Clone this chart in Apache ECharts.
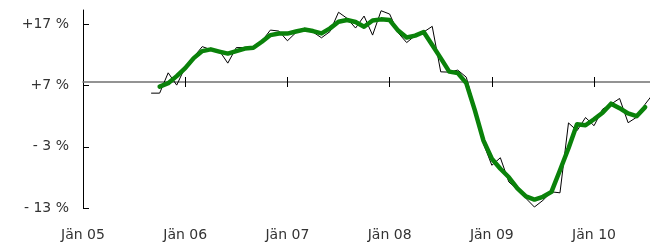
<!DOCTYPE html>
<html>
<head>
<meta charset="utf-8">
<script src="https://cdn.jsdelivr.net/npm/echarts@6/dist/echarts.min.js"></script>
<style>
  html, body { margin: 0; padding: 0; background: #fff; }
  #chart { width: 650px; height: 243px; }
</style>
</head>
<body>
<div id="chart"></div>
<script>
// x = months since Jan 05
const yearTicks = [0, 12, 24, 36, 48, 60];
const yearLabels = ['Jän 05', 'Jän 06', 'Jän 07', 'Jän 08', 'Jän 09', 'Jän 10'];
const yTicks = [-13, -3, 7, 17];
const yTickLabels = ['- 13 %', '- 3 %', '+7 %', '+17 %'];

// monthly change, Sep 05 .. Aug 10
const monthlyStart = 8;
const monthly = [
  5.76, 5.76, 9.08, 7.07,
  10.01, 11.65, 13.36, 12.87, 12.71, 10.66, 13.20, 13.20, 13.33, 14.26, 16.06, 15.90,
  14.31, 15.65, 16.34, 15.74, 14.80, 15.82, 18.97, 17.98, 16.39, 18.35, 15.24, 19.22,
  18.68, 15.62, 14.02, 15.16, 15.74, 16.67, 9.24, 9.19, 9.52, 8.37, 3.30, -2.42,
  -6.02, -4.79, -8.75, -9.95, -11.42, -12.84, -11.75, -10.36, -10.52, 0.90, -0.38, 1.78,
  0.44, 3.14, 3.96, 4.89, 0.93, 1.83, 3.96, 5.76
];

// smoothed trend, Oct 05 .. Jul 10
const smoothStart = 9;
const smoothed = [
  6.82, 7.39, 8.54,
  9.85, 11.48, 12.63, 12.91, 12.55, 12.22, 12.63, 13.04, 13.17, 14.15, 15.24, 15.49,
  15.49, 15.82, 16.14, 15.90, 15.52, 16.34, 17.42, 17.70, 17.37, 16.60, 17.62, 17.81,
  17.70, 15.98, 14.84, 15.16, 15.74, 13.61, 11.48, 9.27, 9.03, 7.39, 2.98, -1.93,
  -4.96, -6.59, -7.98, -9.78, -11.09, -11.63, -11.17, -10.36, -6.84, -3.24, 0.69, 0.52,
  1.50, 2.57, 4.04, 3.30, 2.44, 1.99, 3.47
];

const xMax = 66.57;
const font = 'DejaVu Sans';

const chart = echarts.init(document.getElementById('chart'));

const baseAxis = {
  type: 'value',
  position: 'bottom',
  min: 0,
  max: xMax,
  splitLine: { show: false },
  axisLabel: { show: false },
};

chart.setOption({
  animation: false,
  grid: { left: 83, right: 0, top: 10, bottom: 35, containLabel: false },
  xAxis: [
    {
      ...baseAxis,
      axisLine: { show: false, onZero: false },
      axisTick: { show: false },
      axisLabel: {
        show: true,
        customValues: yearTicks,
        formatter: (v) => yearLabels[yearTicks.indexOf(v)],
        margin: 20,
        fontSize: 14,
        fontFamily: font,
        color: '#333',
      },
    },
    {
      ...baseAxis,
      offset: -126,
      axisLine: { show: true, onZero: false, lineStyle: { color: '#707070', width: 1.5 } },
      axisTick: { show: true, inside: true, length: 5, customValues: yearTicks.slice(1), lineStyle: { color: '#000', width: 1 } },
    },
    {
      ...baseAxis,
      offset: -126,
      axisLine: { show: false, onZero: false },
      axisTick: { show: true, inside: false, length: 5, customValues: yearTicks.slice(1), lineStyle: { color: '#000', width: 1 } },
    },
  ],
  yAxis: {
    type: 'value',
    min: -13,
    max: 19.34,
    splitLine: { show: false },
    axisLine: { show: true, onZero: false, lineStyle: { color: '#000', width: 1 } },
    axisTick: { show: true, inside: true, length: 6, customValues: yTicks, lineStyle: { color: '#000' } },
    axisLabel: {
      customValues: yTicks,
      formatter: (v) => yTickLabels[yTicks.indexOf(v)],
      margin: 14,
      fontSize: 14,
      fontFamily: font,
      color: '#333',
    },
  },
  series: [
    {
      type: 'line',
      data: monthly.map((v, i) => [monthlyStart + i, v]),
      symbol: 'none',
      clip: true,
      lineStyle: { color: '#000', width: 1 },
      z: 2,
    },
    {
      type: 'line',
      data: smoothed.map((v, i) => [smoothStart + i, v]),
      symbol: 'none',
      clip: true,
      lineStyle: { color: '#0a820a', width: 4.5, join: 'round', cap: 'round' },
      z: 3,
    },
  ],
});
</script>
</body>
</html>
